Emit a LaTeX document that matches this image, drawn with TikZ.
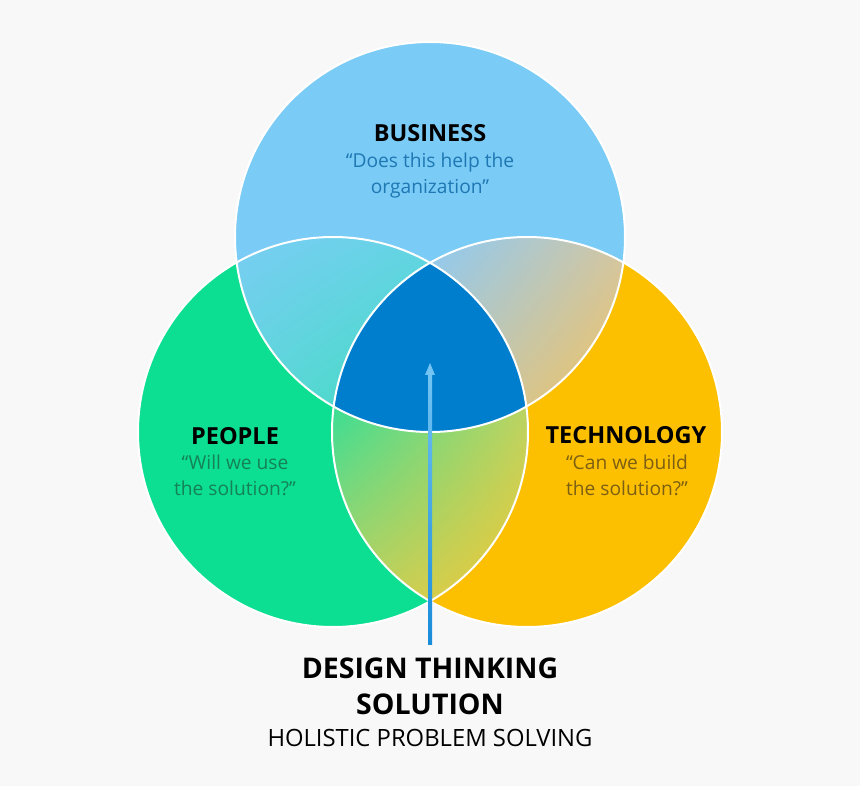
\documentclass[tikz,border=0pt]{standalone}
\usepackage{fontspec}
\setmainfont{Open Sans}
\usetikzlibrary{arrows.meta,shadings}

\definecolor{bggray}{RGB}{248,248,248}
\definecolor{busblue}{RGB}{122,203,245}
\definecolor{pplgreen}{RGB}{12,222,146}
\definecolor{techyellow}{RGB}{252,192,0}
\definecolor{coreblue}{RGB}{0,126,206}
\definecolor{busquote}{RGB}{30,120,180}
\definecolor{pplquote}{RGB}{20,130,85}
\definecolor{techquote}{RGB}{125,95,20}
\definecolor{arrowlow}{RGB}{25,140,218}
\definecolor{arrowhigh}{RGB}{115,196,242}
% overlap shades
\definecolor{bpUL}{RGB}{122,205,244}
\definecolor{bpUR}{RGB}{100,212,228}
\definecolor{bpLL}{RGB}{90,215,215}
\definecolor{bpLR}{RGB}{58,221,186}
\definecolor{btUL}{RGB}{140,202,244}
\definecolor{btUR}{RGB}{210,198,165}
\definecolor{btLL}{RGB}{200,198,175}
\definecolor{btLR}{RGB}{248,194,80}
\definecolor{ptUL}{RGB}{55,222,150}
\definecolor{ptUR}{RGB}{185,212,100}
\definecolor{ptLL}{RGB}{185,210,100}
\definecolor{ptLR}{RGB}{245,200,50}

\newcommand{\busCircle}{(430,237) circle (195pt)}
\newcommand{\pplCircle}{(333,432) circle (195pt)}
\newcommand{\techCircle}{(527,432) circle (195pt)}

\begin{document}
\begin{tikzpicture}[x=1pt, y=-1pt,
  title/.style={font=\bfseries\fontsize{23.5}{26}\selectfont, text=black, inner sep=0pt},
  quote/.style={font=\fontsize{19.2}{26}\selectfont, align=center, inner sep=0pt},
  rim/.style={draw=white, line width=2pt}]

  % background and frame
  \fill[bggray] (0,0) rectangle (860,786);

  % the three sets
  \fill[busblue] \busCircle;
  \fill[pplgreen] \pplCircle;
  \fill[techyellow] \techCircle;

  % business & people
  \begin{scope}
    \clip \busCircle;
    \clip \pplCircle;
    \shade[upper left=bpUL, upper right=bpUR, lower left=bpLL, lower right=bpLR]
      (235,237) rectangle (430,432);
  \end{scope}

  % business & technology
  \begin{scope}
    \clip \busCircle;
    \clip \techCircle;
    \shade[upper left=btUL, upper right=btUR, lower left=btLL, lower right=btLR]
      (430,237) rectangle (625,432);
  \end{scope}

  % people & technology
  \begin{scope}
    \clip \pplCircle;
    \clip \techCircle;
    \shade[upper left=ptUL, upper right=ptUR, lower left=ptLL, lower right=ptLR]
      (333,400) rectangle (527,601);
  \end{scope}

  % all three
  \begin{scope}
    \clip \busCircle;
    \clip \pplCircle;
    \fill[coreblue] \techCircle;
  \end{scope}

  \draw[rim] \busCircle;
  \draw[rim] \pplCircle;
  \draw[rim] \techCircle;

  % arrow up into the core
  \coordinate (foot) at (430,644);
  \coordinate (tip) at (430,363);
  \shade[bottom color=arrowlow, top color=arrowhigh] (428,644) rectangle (432,374);
  \fill[arrowhigh] (tip) -- (425,375) -- (435,375) -- cycle;

  % labels (base = last line)
  \node[title, anchor=base] (business) at (430,142) {BUSINESS};
  \node[quote, text=busquote, anchor=base] (busq) at (430,194) {“Does this help the\\organization”};

  \node[title, anchor=base] (people) at (235,444) {PEOPLE};
  \node[quote, text=pplquote, anchor=base] (pplq) at (235,495) {“Will we use\\the solution?”};

  \node[title, anchor=base] (technology) at (626,443) {TECHNOLOGY};
  \node[quote, text=techquote, anchor=base] (techq) at (627,495) {“Can we build\\the solution?”};

  \node[font=\bfseries\fontsize{28.5}{36}\selectfont, align=center, inner sep=0pt, anchor=base] (solution) at (430,714)
    {DESIGN THINKING\\SOLUTION};
  \node[font=\fontsize{23.8}{24}\selectfont, inner sep=0pt, anchor=base] (holistic) at (430,746)
    {HOLISTIC PROBLEM SOLVING};
\end{tikzpicture}
\end{document}
